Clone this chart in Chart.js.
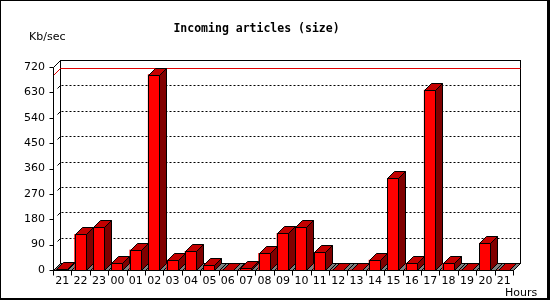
<!DOCTYPE html>
<html>
<head>
<meta charset="utf-8">
<script src="https://cdn.jsdelivr.net/npm/chart.js@4/dist/chart.umd.min.js"></script>
<style>
html,body{margin:0;padding:0;background:#fff;}
#wrap{position:relative;width:550px;height:300px;}
#frame{position:absolute;left:0;top:0;right:0;bottom:0;box-sizing:border-box;border-style:solid;border-color:#000;border-width:1px 3px 2px 1px;pointer-events:none;}
</style>
</head>
<body>
<div id="wrap">
<canvas id="chart" width="550" height="300"></canvas>
<div id="frame"></div>
</div>
<script>

/* DATA */

const hours = ["21","22","23","00","01","02","03","04","05","06","07","08","09","10","11","12","13","14","15","16","17","18","19","20","21"];
const sizes = [2,126,151,24,71,693,35,66,17,1,7,59,130,151,63,1,1,35,325,24,638,24,1,95,1];
const yMax = 720;
const yStep = 90;

const title = "Incoming articles (size)";
const yUnit = "Kb/sec";
const xUnit = "Hours";

/* 3D LOOK */

const DX = 7, DY = 7;
const FRONT = "#ff0000", TOP = "#c40000", SIDE = "#800000", FLOOR = "#808080";
const FONT = "11px 'DejaVu Sans'";

function poly(ctx,pts,fill){
ctx.beginPath();
ctx.moveTo(pts[0][0],pts[0][1]);
for(let i=1;i<pts.length;i++) ctx.lineTo(pts[i][0],pts[i][1]);
ctx.closePath();
if(fill){ctx.fillStyle=fill;ctx.fill();}
ctx.stroke();
}

function line(ctx,x1,y1,x2,y2){
ctx.beginPath();
ctx.moveTo(x1,y1);
ctx.lineTo(x2,y2);
ctx.stroke();
}

const threeD = {
id:"threeD",

beforeDatasetsDraw(chart){

const {ctx, chartArea:a, scales:{x,y}} = chart;
const L = Math.round(a.left)+0.5, R = Math.round(a.right)+0.5;
const B = Math.round(y.getPixelForValue(0))+0.5;
const T = Math.round(y.getPixelForValue(yMax))+0.5;

ctx.save();
ctx.lineWidth=1;
ctx.strokeStyle="#000";

/* back wall */
ctx.fillStyle="#fff";
ctx.fillRect(L+DX,T-DY,R-L,B-T);
ctx.strokeRect(L+DX,T-DY,R-L,B-T);

/* grid on the back wall */
y.ticks.forEach(t=>{
if(t.value<=0 || t.value>=yMax) return;
const py = Math.round(y.getPixelForValue(t.value))+0.5-DY;
ctx.setLineDash([2,2]);
line(ctx,L+DX+1,py,R+DX,py);
ctx.setLineDash([]);
line(ctx,L+DX-3,py+3,L+DX,py);
});

/* max line */
const my = Math.round(y.getPixelForValue(Math.max(...sizes)))+0.5;
ctx.strokeStyle="#e00000";
line(ctx,L+DX,my-DY,R+DX,my-DY);
line(ctx,L,my,L+DX,my-DY);
ctx.strokeStyle="#000";

/* left wall */
line(ctx,L,T,L,B);
line(ctx,L,T,L+DX,T-DY);

/* y ticks */
y.ticks.forEach(t=>{
const py = Math.round(y.getPixelForValue(t.value))+0.5;
line(ctx,L-4,py,L,py);
});

/* floor */
poly(ctx,[[L,B],[R,B],[R+DX,B-DY],[L+DX,B-DY]],FLOOR);

const n = hours.length;
for(let i=0;i<=n;i++){
let bx;
if(i===0) bx=L;
else if(i===n) bx=R;
else bx=Math.round((x.getPixelForValue(i-1)+x.getPixelForValue(i))/2)+0.5;
line(ctx,bx,B,bx+DX,B-DY);
line(ctx,bx,B,bx,B+5);
}

ctx.restore();
},

afterDatasetsDraw(chart){

const {ctx} = chart;
const meta = chart.getDatasetMeta(0);

ctx.save();
ctx.lineWidth=1;
ctx.strokeStyle="#000";

meta.data.forEach(bar=>{
const l = Math.round(bar.x-bar.width/2)+0.5;
const r = Math.round(bar.x+bar.width/2)-0.5;
const t = Math.round(bar.y)+0.5;
const b = Math.round(bar.base)+0.5;
if(b-t>1) poly(ctx,[[l,t],[r,t],[r,b],[l,b]],FRONT);
poly(ctx,[[l,t],[r,t],[r+DX,t-DY],[l+DX,t-DY]],TOP);
poly(ctx,[[r,t],[r,b],[r+DX,b-DY],[r+DX,t-DY]],SIDE);
});

ctx.restore();
},

afterDraw(chart){

const {ctx} = chart;
ctx.save();
ctx.fillStyle="#000";
ctx.font=FONT;
ctx.textAlign="left";
ctx.textBaseline="middle";
ctx.fillText(yUnit,29,37);
ctx.fillText(xUnit,505,293);
ctx.restore();
}
};

/* CHART */

const ctx = document.getElementById("chart");

new Chart(ctx,{
type:"bar",
data:{
labels:hours,
datasets:[{
data:sizes,
backgroundColor:FRONT,
borderWidth:0,
barThickness:12,
categoryPercentage:1
}]
},
options:{
responsive:false,
animation:false,
layout:{padding:{left:0,right:37,top:0,bottom:0}},
plugins:{
legend:{display:false},
tooltip:{enabled:false},
title:{
display:true,
text:title,
color:"#000",
font:{family:"'DejaVu Sans Mono'",size:11.5,weight:"bold"},
padding:{top:22.6,bottom:30.6}
}
},
scales:{
x:{
grid:{display:false,drawTicks:false},
border:{display:false},
ticks:{color:"#000",font:{family:"'DejaVu Sans'",size:11},padding:5,maxRotation:0,autoSkip:false},
afterFit(s){s.height=30;}
},
y:{
min:0,
max:yMax,
grid:{display:false,drawTicks:false},
border:{display:false},
ticks:{stepSize:yStep,color:"#000",font:{family:"'DejaVu Sans'",size:11},padding:8},
afterFit(s){s.width=53;}
}
}
},
plugins:[threeD]
});

</script>
</body>
</html>
